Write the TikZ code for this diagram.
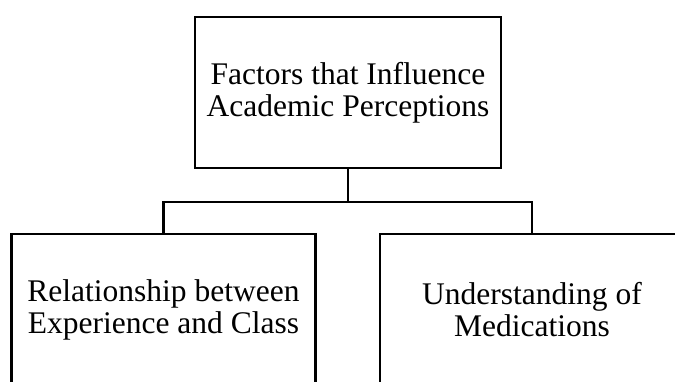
\documentclass[tikz,border=0pt]{standalone}
\usepackage{fontspec}
\setmainfont{Liberation Serif}
\begin{document}
\begin{tikzpicture}[x=1pt,y=-1pt,
  box/.style={draw=black,line width=2.2pt,inner sep=0pt,align=center,
    minimum width=304pt,minimum height=152pt,
    font=\fontsize{31.5}{32}\selectfont},
  link/.style={draw=black,line width=2.2pt}]
\useasboundingbox (0,0) rectangle (675,382);
\clip (0,0) rectangle (675,382);
\node [box,minimum width=306pt,minimum height=151pt] (factors) at (348,92.5) {Factors that Influence\\Academic Perceptions};
\node [box] (relation) at (163.5,310) {Relationship between\\Experience and Class};
\node [box] (medication) at (532,310) {Understanding of\\Medications};
\draw [link] (factors.south) -- ++(0,33) coordinate (split);
\draw [link] (split) -| (relation.north);
\draw [link] (split) -| (medication.north);
\end{tikzpicture}
\end{document}
